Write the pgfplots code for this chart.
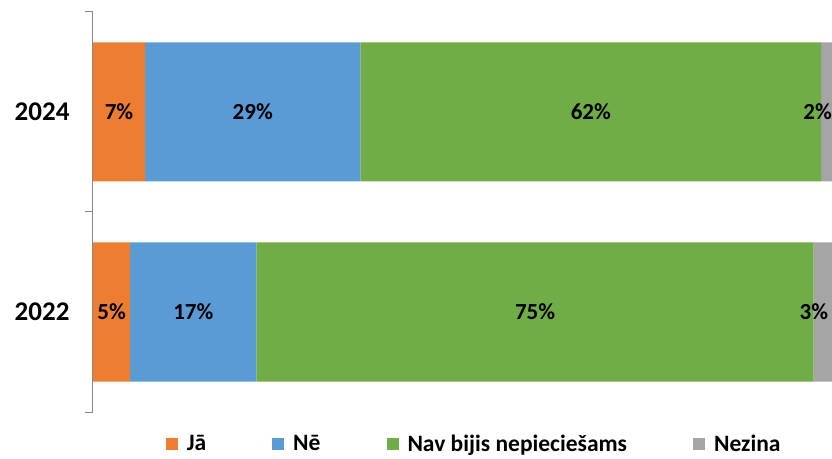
\documentclass[border=0pt]{standalone}
\usepackage{pgfplots}
\pgfplotsset{compat=1.18}
\usepackage{fontspec}
\setmainfont{Carlito}

\definecolor{cja}{HTML}{ED7D31}
\definecolor{cne}{HTML}{5B9BD5}
\definecolor{cnav}{HTML}{70AD47}
\definecolor{cnez}{HTML}{A5A5A5}
\definecolor{axgray}{HTML}{868686}

\begin{document}
\begin{tikzpicture}[x=1pt,y=1pt]
\begin{axis}[
  at={(93pt,46pt)}, anchor=south west,
  scale only axis, width=743pt, height=400pt,
  xbar stacked, bar width=139pt,
  xmin=0, xmax=100, ymin=-0.5, ymax=1.5,
  axis x line=none, axis y line*=left,
  y axis line style={axgray, line width=1pt},
  ytick={0,1}, yticklabels={2022,2024},
  major tick length=0pt,
  extra y ticks={-0.5,0.5,1.5}, extra y tick labels={},
  extra y tick style={major tick length=8pt, tick align=outside, tick style={axgray, line width=1pt}},
  yticklabel style={font=\bfseries\fontsize{27}{30}\selectfont, anchor=east, xshift=-20pt},
  /pgf/number format/assume math mode=true,
  point meta=rawx,
  nodes near coords={\pgfmathprintnumber{\pgfplotspointmeta}\%},
  every node near coord/.append style={font=\bfseries\fontsize{23}{26}\selectfont, black},
  legend columns=4,
  legend style={at={(0.513,-0.08)}, anchor=center, draw=none, fill=none,
    font=\bfseries\fontsize{23.5}{27}\selectfont,
    /tikz/every even column/.append style={column sep=64pt}},
  legend image code/.code={\fill[#1] (0pt,-6pt) rectangle (12pt,6pt); \path (19pt,0pt);},
]
\addplot[fill=cja, draw=none] coordinates {(5,0) (7,1)};
\addplot[fill=cne, draw=none] coordinates {(17,0) (29,1)};
\addplot[fill=cnav, draw=none] coordinates {(75,0) (62,1)};
\addplot[fill=cnez, draw=none, every node near coord/.append style={xshift=-11pt}] coordinates {(3,0) (2,1)};
\legend{Jā, Nē, Nav bijis nepieciešams, Nezina}
\end{axis}
\pgfresetboundingbox
\useasboundingbox (0,0) rectangle (832,458);
\end{tikzpicture}
\end{document}
